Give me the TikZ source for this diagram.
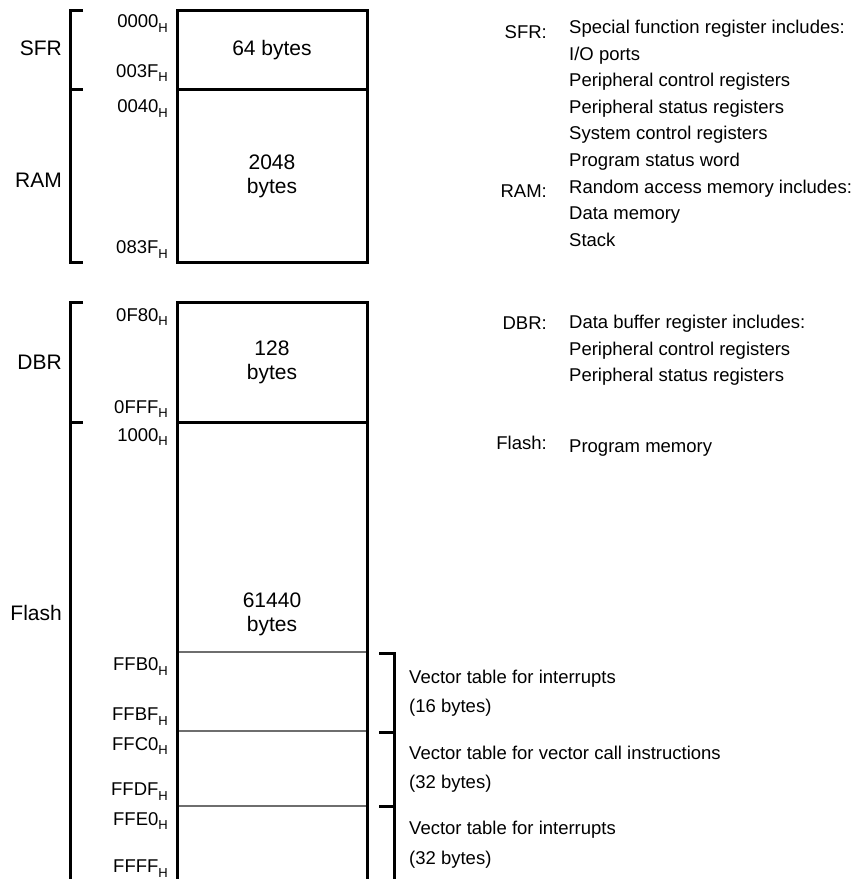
\documentclass[tikz,border=0pt]{standalone}
\usepackage{fontspec}
\setmainfont{Liberation Sans}
\usetikzlibrary{positioning}
\definecolor{slot}{RGB}{110,110,110}
% address with hex suffix
\newcommand{\hx}[1]{#1\raisebox{-4.5pt}{\fontsize{13}{13}\selectfont H}}

\tikzset{
  mapline/.style={line width=3pt,line join=miter},
  slotline/.style={slot,line width=1.2pt},
  addr/.style={anchor=base east,inner sep=0pt,font=\fontsize{18.5}{22}\selectfont},
  areatag/.style={anchor=base east,inner sep=0pt,font=\fontsize{21}{24}\selectfont},
  sizetag/.style={anchor=base,inner sep=0pt,align=center,font=\fontsize{21}{24}\selectfont},
  notekey/.style={anchor=base east,inner sep=0pt,font=\fontsize{18.5}{22}\selectfont},
  note/.style={anchor=base west,inner sep=0pt,font=\fontsize{18.5}{22}\selectfont},
}

\begin{document}
\begin{tikzpicture}[x=1pt,y=-1pt]
 \useasboundingbox (0,0) rectangle (856,879);
 % upper block: SFR + RAM
 \draw[mapline] (177,10) rectangle (367,262);
 \draw[mapline] (177,89) -- (367,89);
 % lower block: DBR + Flash, runs off the page
 \draw[mapline] (177,885) -- (177,302) -- (367,302) -- (367,885);
 \draw[mapline] (177,422) -- (367,422);
 \foreach \y in {652,731,806}
   \draw[slotline] (178.5,\y) -- (365.5,\y);
 % brackets left of the map
 \draw[mapline] (83,10.7) -- (70.7,10.7) -- (70.7,262) -- (83,262);
 \draw[mapline] (70.7,89) -- (83,89);
 \draw[mapline] (83,302) -- (70.7,302) -- (70.7,885);
 \draw[mapline] (70.7,422) -- (83,422);
 % bracket for the vector tables
 \draw[mapline] (379,653) -- (394,653) -- (394,885);
 \foreach \y in {732,806}
   \draw[mapline] (379,\y) -- (394,\y);

 % addresses
 \foreach \y/\a [count=\i] in {27.5/0000,77/003F,112.5/0040,253.5/083F,
     321/0F80,413/0FFF,441/1000,670.5/FFB0,720.5/FFBF,750/FFC0,
     795.5/FFDF,825/FFE0,872.5/FFFF}
   \node[addr] (adr\i) at (168,\y) {\hx{\a}};

 % area names
 \node[areatag] (sfr)   at (62,55)    {SFR};
 \node[areatag] (ram)   at (62,187.5) {RAM};
 \node[areatag] (dbr)   at (62,369.5) {DBR};
 \node[areatag] (flash) at (62,620.5) {Flash};

 % sizes (base = last line)
 \node[sizetag] (sfrsize)   at (272,55.7) {64 bytes};
 \node[sizetag] (ramsize)   at (272,193)  {2048\\bytes};
 \node[sizetag] (dbrsize)   at (272,379)  {128\\bytes};
 \node[sizetag] (flashsize) at (272,631)  {61440\\bytes};

 % legend
 \node[notekey] (ksfr)   at (547,38.5) {SFR:};
 \node[notekey] (kram)   at (547,197)  {RAM:};
 \node[notekey] (kdbr)   at (547,329)  {DBR:};
 \node[notekey] (kflash) at (547,449)  {Flash:};
 \foreach \y/\t [count=\i] in {33.5/Special function register includes:,
     60.1/I\slash O ports,86.7/Peripheral control registers,
     113.3/Peripheral status registers,139.9/System control registers,
     166.5/Program status word,193.1/Random access memory includes:,
     219.7/Data memory,246.3/Stack,
     328.5/Data buffer register includes:,355/Peripheral control registers,
     381.6/Peripheral status registers,452/Program memory}
   \node[note] (ln\i) at (569,\y) {\t};

 % vector tables
 \foreach \y/\t [count=\i] in {683/Vector table for interrupts,712/(16 bytes),
     759/Vector table for vector call instructions,788/(32 bytes),
     834/Vector table for interrupts,864/(32 bytes)}
   \node[note] (vt\i) at (409,\y) {\t};
\end{tikzpicture}
\end{document}
